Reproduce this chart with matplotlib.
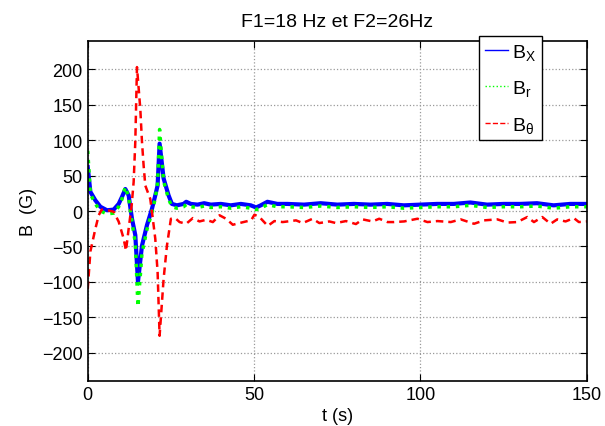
import matplotlib
matplotlib.use("Agg")
import matplotlib.pyplot as plt
from matplotlib.lines import Line2D

plt.rcParams['font.family'] = ['Liberation Sans', 'DejaVu Sans']

# B_X (blue)
t_bx = [0, 0.8, 2.3, 3.8, 5.8, 7.8, 9.3, 10.3, 11.3, 12.3, 13.3, 14.3, 15.1,
        16.3, 17.8, 19.3, 20.3, 21.0, 21.6, 22.8, 24.3, 25.3, 26.8, 28.8,
        29.6, 31, 33, 35, 37, 40, 43, 46, 49, 50.6, 52, 54, 57, 60, 65, 70,
        75, 80, 85, 90, 95, 100, 105, 110, 115, 120, 125, 130, 135, 140, 145, 150]
bx = [62, 27, 15, 6, 1, 2, 10, 20, 31, 22, -11, -34, -100,
      -49, -20, 3, 22, 36, 95, 46, 22, 10, 8, 10,
      13, 10, 9, 11, 9, 10, 8, 10, 8, 5, 8, 13, 10, 10, 9, 11,
      9, 10, 9, 10, 8, 9, 10, 10, 12, 9, 10, 10, 11, 8, 10, 10]

# B_r (green)
t_br = [0, 0.8, 2.3, 3.8, 5.8, 7.8, 9.3, 10.3, 11.3, 12.3, 13.3, 14.3, 15.1,
        16.3, 17.8, 19.3, 20.3, 21.0, 21.6, 22.8, 24.3, 25.3, 26.8, 28.8,
        29.6, 31, 33, 35, 37, 40, 43, 46, 49, 50.6, 52, 54, 57, 60, 65, 70,
        75, 80, 85, 90, 95, 100, 105, 110, 115, 120, 125, 130, 135, 140, 145, 150]
br = [85, 24, 10, 0, -4, -3, 6, 17, 34, 19, -16, -45, -135,
      -60, -26, -2, 18, 40, 115, 42, 17, 6, 4, 6,
      9, 6, 5, 7, 5, 6, 4, 6, 4, 2, 4, 9, 6, 6, 5, 7,
      5, 6, 5, 6, 4, 5, 6, 6, 8, 5, 6, 6, 7, 4, 6, 6]

# B_theta (red)
t_bt = [0, 0.8, 2.3, 3.3, 4.2, 6, 7.8, 9.3, 10.8, 11.5, 12.3, 13.2, 13.8, 14.3,
        14.8, 15.8, 16.3, 16.8, 17.3, 18.8, 19.3, 20.3, 21, 21.6, 22.8, 23.8,
        25, 26.3, 27.6, 29.6, 31.6, 33.6, 35.6, 37.6, 39.6, 41.6, 43.6, 45.6,
        47.6, 49.1, 50.1, 51.6, 54.1, 56.1, 58.6, 62.6, 64.6, 67.6, 69.6, 72.6,
        74.6, 77.6, 80.6, 82.6, 85.6, 87.6, 90.1, 92.1, 95.1, 99.1, 102.1,
        105.1, 109.1, 112.1, 116.1, 119.1, 123.1, 126.1, 129.1, 132.1, 134.1,
        136.6, 139.1, 141.1, 143.6, 146.1, 147.6, 150]
bt = [-110, -57, -25, -6, 2, 1, -1, -15, -39, -56, -25, 8, 41, 98,
      203, 144, 98, 64, 36, 17, -1, -39, -86, -176, -96, -49,
      -11, -10, -15.6, -18, -10, -14.7, -12.4, -15.6, -6, -11, -19.4, -17,
      -14.7, -13.2, -5.2, -8.5, -21, -14.2, -15.6, -13.2, -17, -10.9, -17, -14.7,
      -17, -14.2, -18.4, -11.8, -14.7, -10.9, -15.6, -15.6, -14.7, -10.9, -15.6,
      -14.2, -15.6, -11.8, -18, -13.2, -11.8, -16.3, -15.6, -8.5, -15.6,
      -8.5, -18, -11.8, -14.7, -10, -15.6, -14.7]

fig = plt.figure(figsize=(6.05, 4.27), dpi=100)
ax = fig.add_axes([0.145, 0.105, 0.825, 0.797])

ax.plot(t_bx, bx, color='#0000ff', lw=3)
ax.plot(t_br, br, color='#00ff00', lw=2.5, ls=':')
ax.plot(t_bt, bt, color='#ff0000', lw=1.8, ls=(0, (3, 2)))

ax.set_xlim(0, 150)
ax.set_ylim(-240, 240)
ax.set_xticks([0, 50, 100, 150])
ax.set_yticks(range(-200, 201, 50))
ax.grid(True, ls=':', color='#999999', lw=0.9)
ax.tick_params(direction='in', top=True, right=True, length=5, labelsize=13)
for s in ax.spines.values():
    s.set_linewidth(1.2)

ax.set_xlabel('t (s)', fontsize=13, labelpad=3)
ax.set_ylabel('B  (G)', fontsize=13)
ax.set_title('F1=18 Hz et F2=26Hz', fontsize=14, pad=11)

# legend with thin handles like the original
handles = [Line2D([], [], color='#0000ff', lw=1),
           Line2D([], [], color='#00ff00', lw=1, ls=':'),
           Line2D([], [], color='#ff0000', lw=1, ls='--')]
labels = [r'$\mathregular{B_X}$', r'$\mathregular{B_r}$', r'$\mathregular{B_\theta}$']
leg = ax.legend(handles, labels, loc='upper left', bbox_to_anchor=(0.784, 1.015),
                borderaxespad=0, fontsize=14, frameon=True, fancybox=False,
                edgecolor='black', handlelength=1.2, labelspacing=0.85,
                borderpad=0.3, handletextpad=0.2, framealpha=1)
leg.get_frame().set_linewidth(1.0)

fig.savefig('out.png', dpi=100)
